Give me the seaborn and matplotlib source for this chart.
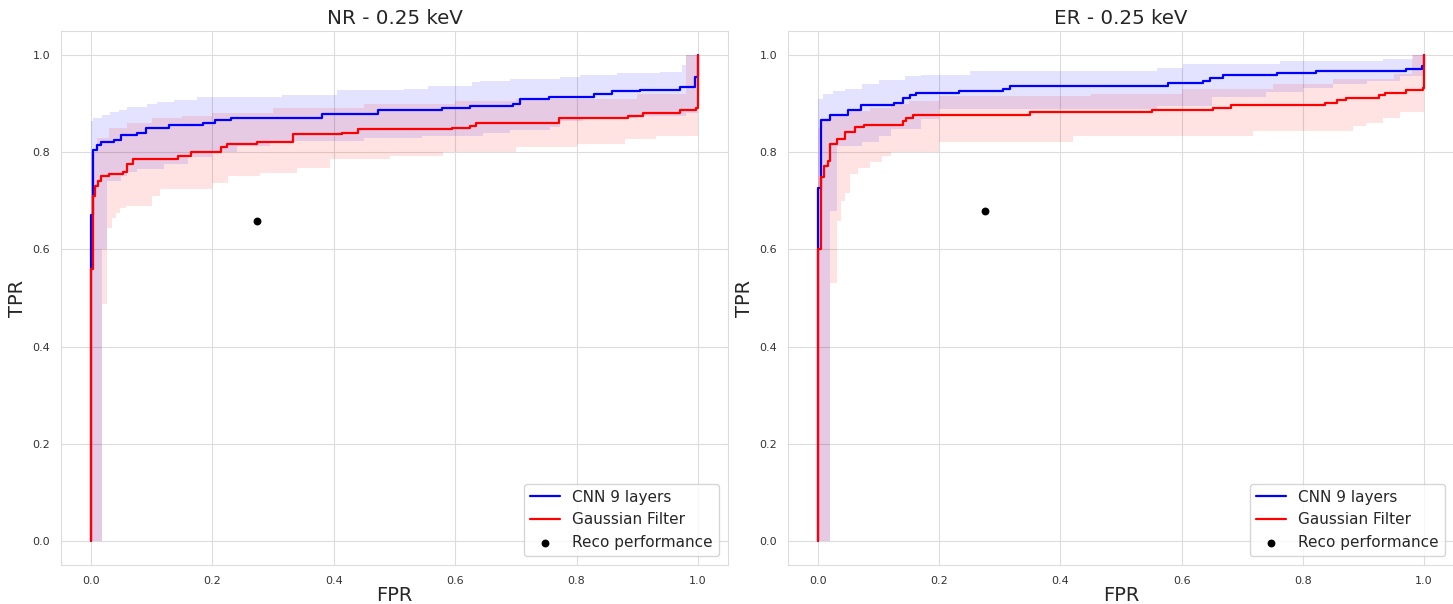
import numpy as np
import pandas as pd
import matplotlib
matplotlib.use("Agg")
import matplotlib.pyplot as plt
import seaborn as sns

# ---------------- data ----------------
titles = ["NR - 0.25 keV", "ER - 0.25 keV"]
labels = ["CNN 9 layers", "Gaussian Filter", "Reco performance"]

# NR panel
nr_cnn_fpr = [0, 0, 0.004, 0.010, 0.016, 0.038, 0.05, 0.075, 0.09, 0.128, 0.185, 0.204, 0.23, 0.38, 0.473,
              0.579, 0.624, 0.695, 0.706, 0.755, 0.829, 0.859, 0.904, 0.970, 0.995, 1.0]
nr_cnn_tpr = [0, 0.67, 0.805, 0.815, 0.82, 0.825, 0.835, 0.84, 0.849, 0.856, 0.861, 0.866, 0.871, 0.878, 0.887,
              0.890, 0.895, 0.899, 0.909, 0.914, 0.919, 0.925, 0.929, 0.935, 0.955, 1.0]
nr_gf_fpr = [0, 0, 0.004, 0.007, 0.011, 0.016, 0.03, 0.053, 0.059, 0.069, 0.144, 0.165, 0.214, 0.224, 0.273,
             0.333, 0.413, 0.44, 0.594, 0.624, 0.635, 0.771, 0.885, 0.91, 0.97, 0.997, 1.0]
nr_gf_tpr = [0, 0.559, 0.71, 0.73, 0.74, 0.751, 0.756, 0.76, 0.775, 0.787, 0.792, 0.80, 0.81, 0.816, 0.822,
             0.837, 0.84, 0.847, 0.849, 0.853, 0.86, 0.871, 0.875, 0.88, 0.887, 0.89, 1.0]

nr_cnn_band_fpr = [0, 0.004, 0.0176, 0.027, 0.032, 0.046, 0.05, 0.059, 0.06, 0.075, 0.092, 0.109, 0.12, 0.136,
                   0.16, 0.175, 0.2, 0.24, 0.295, 0.315, 0.405, 0.449, 0.515, 0.545, 0.556, 0.627, 0.641, 0.646,
                   0.69, 0.756, 0.773, 0.806, 0.811, 0.866, 0.9, 0.937, 0.973, 0.981, 1.0]
nr_cnn_band_lo = [0, 0, 0.60, 0.74, 0.74, 0.74, 0.75, 0.75, 0.76, 0.765, 0.765, 0.765, 0.775, 0.775, 0.79, 0.79,
                  0.80, 0.813, 0.823, 0.823, 0.823, 0.830, 0.830, 0.834, 0.834, 0.834, 0.834, 0.84, 0.846, 0.852,
                  0.865, 0.865, 0.870, 0.870, 0.875, 0.875, 0.875, 0.88, 0.88]
nr_cnn_band_hi = [0.865, 0.871, 0.876, 0.876, 0.882, 0.887, 0.887, 0.894, 0.894, 0.894, 0.899, 0.904, 0.904,
                  0.908, 0.908, 0.913, 0.913, 0.913, 0.913, 0.918, 0.927, 0.927, 0.930, 0.930, 0.937, 0.944,
                  0.947, 0.947, 0.951, 0.951, 0.955, 0.959, 0.959, 0.963, 0.963, 0.966, 0.98, 1.0, 1.0]

nr_gf_band_fpr = [0, 0.01, 0.0176, 0.027, 0.03, 0.034, 0.042, 0.048, 0.058, 0.06, 0.1, 0.114, 0.15, 0.2, 0.226,
                  0.278, 0.3, 0.339, 0.394, 0.45, 0.493, 0.58, 0.6, 0.7, 0.8, 0.88, 0.9, 0.93, 0.98, 1.0]
nr_gf_band_lo = [0, 0, 0.487, 0.645, 0.645, 0.665, 0.675, 0.686, 0.69, 0.69, 0.71, 0.724, 0.724, 0.737, 0.751,
                 0.758, 0.758, 0.768, 0.786, 0.786, 0.792, 0.80, 0.80, 0.81, 0.816, 0.827, 0.827, 0.834, 0.834, 0.834]
nr_gf_band_hi = [0.80, 0.83, 0.83, 0.83, 0.85, 0.85, 0.85, 0.85, 0.85, 0.86, 0.87, 0.87, 0.875, 0.88, 0.88,
                 0.88, 0.89, 0.89, 0.89, 0.90, 0.90, 0.90, 0.905, 0.91, 0.91, 0.91, 0.92, 0.92, 1.0, 1.0]
nr_reco_fpr = [0.273]
nr_reco_tpr = [0.658]

# ER panel
er_cnn_fpr = [0, 0, 0.005, 0.02, 0.05, 0.071, 0.125, 0.141, 0.151, 0.162, 0.232, 0.306, 0.317, 0.578, 0.636,
              0.647, 0.668, 0.757, 0.822, 0.971, 0.996, 1.0]
er_cnn_tpr = [0, 0.727, 0.867, 0.877, 0.887, 0.897, 0.902, 0.911, 0.918, 0.922, 0.926, 0.931, 0.937, 0.942,
              0.947, 0.952, 0.958, 0.962, 0.968, 0.972, 0.977, 1.0]
er_gf_fpr = [0, 0, 0.005, 0.01, 0.016, 0.02, 0.031, 0.045, 0.061, 0.076, 0.141, 0.146, 0.157, 0.35, 0.551,
             0.651, 0.681, 0.837, 0.856, 0.872, 0.926, 0.936, 0.971, 0.998, 1.0]
er_gf_tpr = [0, 0.6, 0.748, 0.772, 0.782, 0.816, 0.827, 0.842, 0.851, 0.856, 0.865, 0.871, 0.877, 0.882, 0.887,
             0.89, 0.897, 0.901, 0.907, 0.911, 0.918, 0.922, 0.928, 0.933, 1.0]

er_cnn_band_fpr = [0, 0.009, 0.02, 0.025, 0.031, 0.045, 0.072, 0.1, 0.12, 0.144, 0.17, 0.2, 0.251, 0.56, 0.603,
                   0.65, 0.74, 0.762, 0.8, 0.85, 0.906, 0.933, 0.96, 0.982, 1.0]
er_cnn_band_lo = [0, 0, 0.68, 0.68, 0.812, 0.812, 0.82, 0.834, 0.847, 0.847, 0.868, 0.889, 0.889, 0.895, 0.895,
                  0.913, 0.923, 0.923, 0.933, 0.94, 0.947, 0.947, 0.957, 0.957, 0.957]
er_cnn_band_hi = [0.909, 0.92, 0.92, 0.925, 0.925, 0.931, 0.94, 0.949, 0.949, 0.956, 0.959, 0.959, 0.967, 0.974,
                  0.981, 0.981, 0.981, 0.987, 0.987, 0.987, 0.987, 0.992, 0.992, 1.0, 1.0]

er_gf_band_fpr = [0, 0.005, 0.02, 0.031, 0.038, 0.045, 0.053, 0.066, 0.086, 0.105, 0.12, 0.15, 0.2, 0.421, 0.45,
                  0.6, 0.718, 0.75, 0.85, 0.883, 0.905, 0.932, 0.95, 0.96, 0.98, 1.0]
er_gf_band_lo = [0, 0, 0.531, 0.658, 0.70, 0.717, 0.755, 0.768, 0.779, 0.792, 0.80, 0.80, 0.82, 0.834, 0.834,
                 0.834, 0.844, 0.844, 0.844, 0.854, 0.86, 0.871, 0.871, 0.882, 0.882, 0.882]
er_gf_band_hi = [0.85, 0.87, 0.875, 0.875, 0.875, 0.875, 0.885, 0.885, 0.89, 0.89, 0.90, 0.905, 0.915, 0.915,
                 0.92, 0.93, 0.93, 0.94, 0.95, 0.95, 0.95, 0.95, 0.96, 0.96, 1.0, 1.0]
er_reco_fpr = [0.276]
er_reco_tpr = [0.678]

# ---------------- style ----------------
sns.set_style("whitegrid", {"grid.color": "#dcdcdc", "axes.edgecolor": "#dcdcdc"})
plt.rcParams['font.family'] = ['DejaVu Sans']

W, H = 1453, 604
fig = plt.figure(figsize=(W / 100, H / 100), dpi=100)
ax_bottom = (H - 565.3) / H
ax_h = 534.6 / H
ax1 = fig.add_axes([60.65 / W, ax_bottom, 667.7 / W, ax_h])
ax2 = fig.add_axes([787.7 / W, ax_bottom, 666.6 / W, ax_h])

panels = [
    (ax1, titles[0], (nr_cnn_fpr, nr_cnn_tpr), (nr_gf_fpr, nr_gf_tpr),
     (nr_cnn_band_fpr, nr_cnn_band_lo, nr_cnn_band_hi), (nr_gf_band_fpr, nr_gf_band_lo, nr_gf_band_hi),
     (nr_reco_fpr, nr_reco_tpr)),
    (ax2, titles[1], (er_cnn_fpr, er_cnn_tpr), (er_gf_fpr, er_gf_tpr),
     (er_cnn_band_fpr, er_cnn_band_lo, er_cnn_band_hi), (er_gf_band_fpr, er_gf_band_lo, er_gf_band_hi),
     (er_reco_fpr, er_reco_tpr)),
]

for ax, title, cnn, gf, cnn_band, gf_band, reco in panels:
    ax.fill_between(cnn_band[0], cnn_band[1], cnn_band[2], step='post', color='blue', alpha=0.11, lw=0)
    ax.fill_between(gf_band[0], gf_band[1], gf_band[2], step='post', color='red', alpha=0.11, lw=0)
    sns.lineplot(x=cnn[0], y=cnn[1], ax=ax, color='blue', lw=1.6, drawstyle='steps-post',
                 estimator=None, sort=False, label=labels[0])
    sns.lineplot(x=gf[0], y=gf[1], ax=ax, color='red', lw=1.6, drawstyle='steps-post',
                 estimator=None, sort=False, label=labels[1])
    sns.scatterplot(x=reco[0], y=reco[1], ax=ax, color='black', s=32, linewidth=0, label=labels[2])
    ax.set_xlim(-0.05, 1.05)
    ax.set_ylim(-0.05, 1.05)
    ax.set_xticks([0, 0.2, 0.4, 0.6, 0.8, 1.0])
    ax.set_yticks([0, 0.2, 0.4, 0.6, 0.8, 1.0])
    ax.tick_params(labelsize=8, colors='#333333', pad=4)
    ax.set_title(title, fontsize=14.3, color='#262626', pad=5)
    ax.set_xlabel("FPR", fontsize=14, color='#262626', labelpad=0)
    ax.set_ylabel("TPR", fontsize=14, color='#262626', labelpad=4)
    ax.legend(loc='lower right', fontsize=11, frameon=True, borderaxespad=0.6)

fig.savefig("out.png", dpi=100)
